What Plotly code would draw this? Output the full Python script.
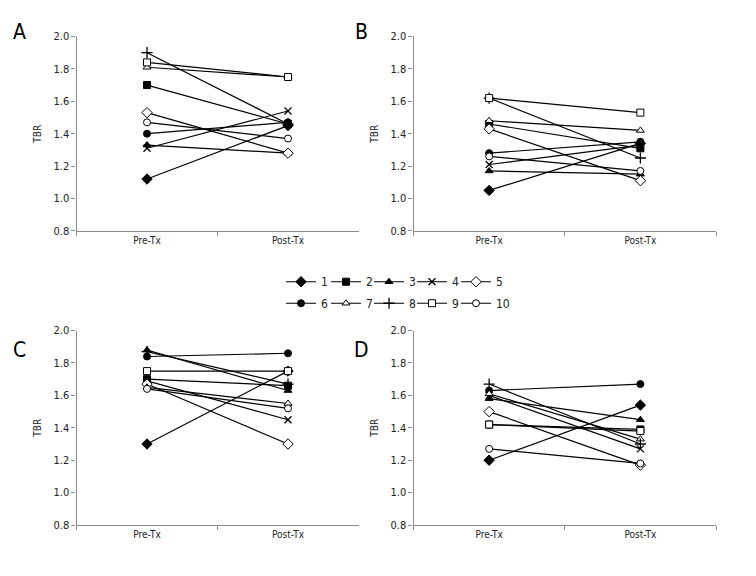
import plotly.graph_objects as go

categories = ["Pre-Tx", "Post-Tx"]
series_names = ["1", "2", "3", "4", "5", "6", "7", "8", "9", "10"]

A_pre = [1.12, 1.70, 1.33, 1.31, 1.53, 1.40, 1.81, 1.90, 1.84, 1.47]
A_post = [1.45, 1.46, 1.28, 1.54, 1.28, 1.47, 1.75, 1.46, 1.75, 1.37]
B_pre = [1.05, 1.46, 1.17, 1.21, 1.43, 1.28, 1.48, 1.62, 1.62, 1.26]
B_post = [1.34, 1.31, 1.15, 1.33, 1.11, 1.35, 1.42, 1.25, 1.53, 1.17]
C_pre = [1.30, 1.70, 1.88, 1.69, 1.67, 1.84, 1.65, 1.87, 1.75, 1.64]
C_post = [1.75, 1.66, 1.63, 1.45, 1.30, 1.86, 1.55, 1.67, 1.75, 1.52]
D_pre = [1.20, 1.42, 1.58, 1.60, 1.50, 1.63, 1.61, 1.67, 1.42, 1.27]
D_post = [1.54, 1.39, 1.45, 1.27, 1.17, 1.67, 1.33, 1.30, 1.38, 1.18]

panel_labels = ["A", "B", "C", "D"]
y_ticks = [0.8, 1.0, 1.2, 1.4, 1.6, 1.8, 2.0]

panels = [(A_pre, A_post), (B_pre, B_post), (C_pre, C_post), (D_pre, D_post)]

symbols = ["diamond", "square", "triangle-up", "x-thin", "diamond",
           "circle", "triangle-up", "cross-thin", "square", "circle"]
fills = ["black", "black", "black", "black", "white",
         "black", "white", "black", "white", "white"]
sizes = [8, 7, 7, 7, 8, 7, 7, 8, 7, 7]

# the page body has an 8px margin; the figure is sized to fit the window
OFF = 8
W, H = 756 - OFF, 576 - OFF
FONT = "Liberation Sans Narrow, DejaVu Sans Condensed, Arial Narrow, sans-serif"


def fx(px):
    return (px - OFF) / W


def fy(py):
    return (H - (py - OFF)) / H


# window-pixel boxes of the plot areas: (x0, x1, ytop, ybottom)
boxes = [(76.5, 358.5, 31, 230), (413.5, 716, 31, 230),
         (76.5, 358.5, 332, 531), (413.5, 716, 332, 531)]

fig = go.Figure()
for p, (pre, post) in enumerate(panels):
    ax = "" if p == 0 else str(p + 1)
    for i, name in enumerate(series_names):
        thin = symbols[i] in ("x-thin", "cross-thin")
        fig.add_trace(go.Scatter(
            x=categories, y=[pre[i], post[i]],
            mode="lines+markers", name=name,
            xaxis="x" + ax, yaxis="y" + ax,
            line=dict(color="black", width=1.2),
            marker=dict(symbol=symbols[i], size=sizes[i], color=fills[i],
                        line=dict(color="black", width=1.3 if thin else 1)),
            showlegend=(p == 0),
            legend="legend" if i == 0 else "legend" + str(i + 1),
        ))

layout = dict(
    width=W, height=H, margin=dict(l=0, r=0, t=0, b=0),
    paper_bgcolor="white", plot_bgcolor="white",
    font=dict(family=FONT, size=10, color="#222"),
    showlegend=True,
)
for p, (x0, x1, yt, yb) in enumerate(boxes):
    ax = "" if p == 0 else str(p + 1)
    layout["xaxis" + ax] = dict(
        domain=[fx(x0), fx(x1)], anchor="y" + ax, type="category",
        categoryorder="array", categoryarray=categories,
        range=[-0.5, 1.5],
        showline=True, linecolor="#8c8c8c", linewidth=1.2,
        ticks="outside", tickson="boundaries", ticklen=4, tickcolor="#8c8c8c",
        showgrid=False, zeroline=False, tickfont=dict(size=10),
    )
    layout["yaxis" + ax] = dict(
        domain=[fy(yb), fy(yt)], anchor="x" + ax,
        range=[0.8, 2.0], tickvals=y_ticks, tickformat=".1f",
        showline=True, linecolor="#8c8c8c", linewidth=1.2,
        ticks="outside", ticklen=4, tickcolor="#8c8c8c",
        showgrid=False, zeroline=False, tickfont=dict(size=11),
        title=dict(text="TBR", standoff=9, font=dict(size=10)),
    )

# one legend per series so each entry sits where it does in the reference
marker_x = [302, 347, 390, 433, 477]
row_y = [282, 304]
for i in range(10):
    key = "legend" if i == 0 else "legend" + str(i + 1)
    layout[key] = dict(
        orientation="h", xanchor="left", yanchor="middle",
        x=fx(marker_x[i % 5] - 21), y=fy(row_y[i // 5]),
        font=dict(size=12, color="#222"), itemwidth=30,
        bgcolor="rgba(0,0,0,0)", borderwidth=0,
    )

letters_pos = [(19, 26), (361, 26), (19, 352), (361, 352)]
layout["annotations"] = [
    dict(text=t, x=fx(px), y=fy(py), xref="paper", yref="paper",
         showarrow=False, xanchor="center", yanchor="middle",
         font=dict(size=21, color="black", family=FONT))
    for t, (px, py) in zip(panel_labels, letters_pos)
]

fig.update_layout(**layout)
fig.write_html("out.html")
